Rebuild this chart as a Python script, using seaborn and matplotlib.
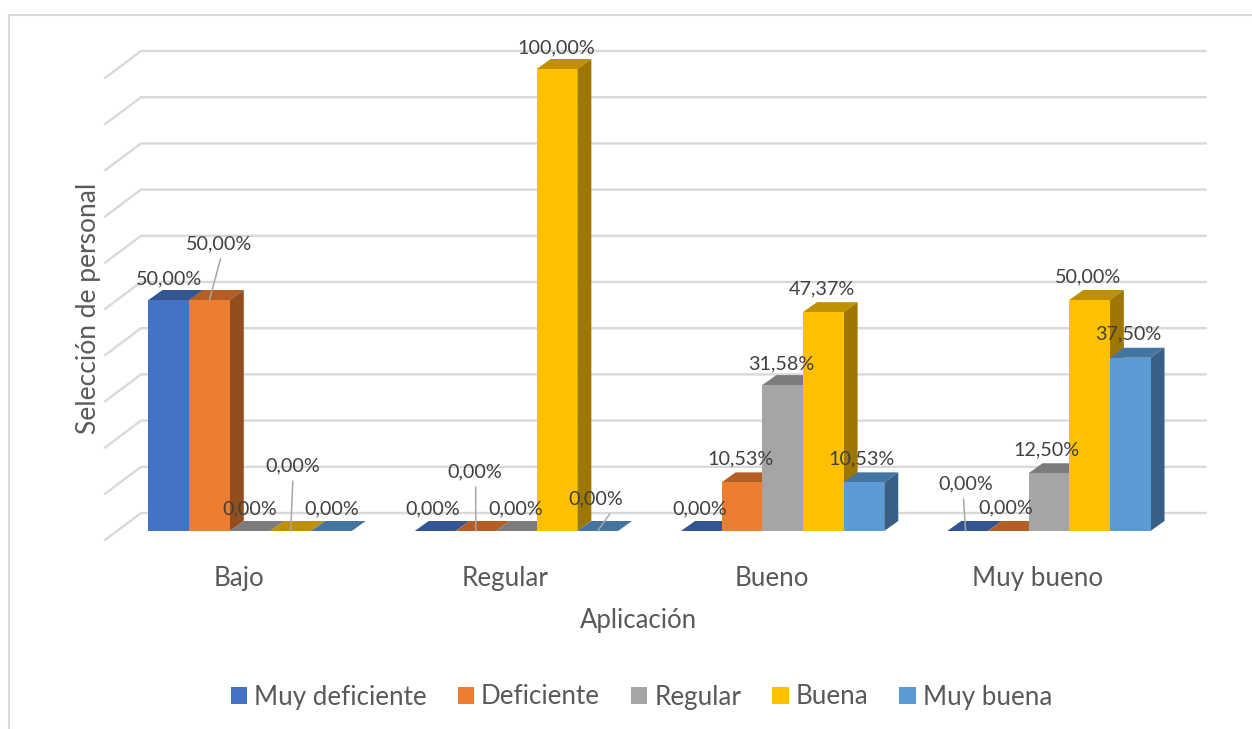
import matplotlib
matplotlib.use("Agg")
import matplotlib.pyplot as plt
from matplotlib.colors import to_rgb
from matplotlib.lines import Line2D
from matplotlib.patches import Polygon
import pandas as pd
import seaborn as sns

categories = ["Bajo", "Regular", "Bueno", "Muy bueno"]
series_names = ["Muy deficiente", "Deficiente", "Regular", "Buena", "Muy buena"]
muy_deficiente = [50.00, 0.00, 0.00, 0.00]
deficiente = [50.00, 0.00, 10.53, 0.00]
regular = [0.00, 0.00, 31.58, 12.50]
buena = [0.00, 100.00, 47.37, 50.00]
muy_buena = [0.00, 0.00, 10.53, 37.50]
colors = ["#4472C4", "#ED7D31", "#A5A5A5", "#FFC000", "#5B9BD5"]

W, H = 1252, 729
LEFT, RIGHT, BOTTOM, TOP = 117, 1182, 531, 69  # pixel frame of the plane of the bars
FONT = "Lato"
sns.set_theme(style="white")
plt.rcParams["font.family"] = [FONT, "DejaVu Sans"]

rows = []
for name, vals in zip(series_names, [muy_deficiente, deficiente, regular, buena, muy_buena]):
    for c, v in zip(categories, vals):
        rows.append({"cat": c, "serie": name, "v": v})
df = pd.DataFrame(rows)

fig = plt.figure(figsize=(W / 100, H / 100), dpi=100, facecolor="white")
ax = fig.add_axes([LEFT / W, 1 - BOTTOM / H, (RIGHT - LEFT) / W, (BOTTOM - TOP) / H])
sns.barplot(data=df, x="cat", y="v", hue="serie", hue_order=series_names, order=categories,
            palette=colors, width=0.7635, linewidth=0, saturation=1, ax=ax)
ax.set_xlim(-0.5, 3.5)
ax.set_ylim(0, 100)
ax.patch.set_alpha(0)
PX = 4.0 / (RIGHT - LEFT)
PY = 100.0 / (BOTTOM - TOP)

# walls: gridlines on the back plane and the diagonal on the side plane
GRID = "#D9D9D9"
for y in range(0, 101, 10):
    ax.plot([-0.5 - 12 * PX, -0.5 + 24 * PX, 3.5 + 24 * PX],
            [y - 9 * PY, y + 18 * PY, y + 18 * PY],
            color=GRID, lw=1.7, clip_on=False, zorder=0.5, solid_joinstyle="miter")

# depth faces of the bars
DX, DY = 14 * PX, 10 * PY
def shade(col, k):
    return tuple(c * k for c in to_rgb(col))

for s, cont in enumerate(ax.containers):
    for g, bar in enumerate(cont):
        z = 2 + g * 5 + s
        x0, w, h = bar.get_x(), bar.get_width(), bar.get_height()
        ax.add_patch(Polygon([(x0, h), (x0 + w, h), (x0 + w + DX, h + DY), (x0 + DX, h + DY)],
                             closed=True, fc=shade(colors[s], 0.75), ec="none", zorder=z,
                             clip_on=False))
        ax.add_patch(Polygon([(x0 + w, 0), (x0 + w + DX, DY), (x0 + w + DX, h + DY), (x0 + w, h)],
                             closed=True, fc=shade(colors[s], 0.62), ec="none", zorder=z,
                             clip_on=False))
        bar.set_zorder(z + 0.5)
        bar.set_clip_on(False)

# data labels: offsets in pixels from the top centre of each bar's front face
label_off = [
    [(0, 22), (-2, 23), (-2, 23), (-2, 48)],
    [(10, 57), (-1, 60), (-1, 24), (-2, 24)],
    [(0, 23), (-1, 23), (-1, 22), (-2, 24)],
    [(2, 66), (-1, 22), (-1, 24), (-2, 24)],
    [(0, 23), (-2, 33), (-2, 24), (-2, 24)],
]
leaders = {
    (1, 0): ((11, 41), 0),
    (3, 0): ((2, 50), 0),
    (1, 1): ((0, 44), 0),
    (4, 1): ((12, 17), 0),
    (0, 3): ((-2, 32), -2),
}
LABEL_FS = 14.2
for s, cont in enumerate(ax.containers):
    for g, bar in enumerate(cont):
        xc = bar.get_x() + bar.get_width() / 2
        h = bar.get_height()
        dx, dy = label_off[s][g]
        ax.annotate(f"{h:.2f}%".replace(".", ","), xy=(xc, h), xytext=(dx, dy - 0.5),
                    textcoords="offset pixels", ha="center", va="center",
                    fontsize=LABEL_FS, color="#404040", zorder=1000, annotation_clip=False)
        if (s, g) in leaders:
            (sx, sy), ex = leaders[(s, g)]
            ax.annotate("", xy=(xc + ex * PX, h), xytext=(sx, sy), textcoords="offset pixels",
                        arrowprops=dict(arrowstyle="-", color="#A6A6A6", lw=1.1, shrinkA=0, shrinkB=0),
                        zorder=999, annotation_clip=False)

# axes text
ax.set_xticks([i - 11 * PX for i in range(4)])
ax.set_xticklabels(categories, fontsize=18.7, color="#595959")
ax.set_yticks([])
ax.tick_params(axis="x", length=0, pad=25)
ax.set_xlabel("Aplicación", fontsize=18.5, color="#595959")
ax.set_ylabel("Selección de personal", fontsize=19, color="#595959")
ax.xaxis.set_label_coords((638 - LEFT) / (RIGHT - LEFT), (BOTTOM - 608) / (BOTTOM - TOP))
ax.yaxis.set_label_coords((101 - LEFT) / (RIGHT - LEFT), (BOTTOM - 308) / (BOTTOM - TOP))
sns.despine(ax=ax, left=True, bottom=True)

# legend
LEG_FS = 18.7
sns.move_legend(ax, loc="center", bbox_to_anchor=((641.5 - LEFT) / (RIGHT - LEFT), (BOTTOM - 697) / (BOTTOM - TOP)),
                ncol=5, frameon=False, title=None, fontsize=LEG_FS,
                handlelength=0.62, handleheight=0.62, handletextpad=0.27, columnspacing=1.2,
                labelcolor="#595959", borderpad=0)

# chart frame
fig.add_artist(Line2D([9 / W, 9 / W, 1], [0, 1 - 15 / H, 1 - 15 / H], color=GRID, lw=1.5,
                      solid_joinstyle="miter"))

fig.savefig("out.png", dpi=100)
